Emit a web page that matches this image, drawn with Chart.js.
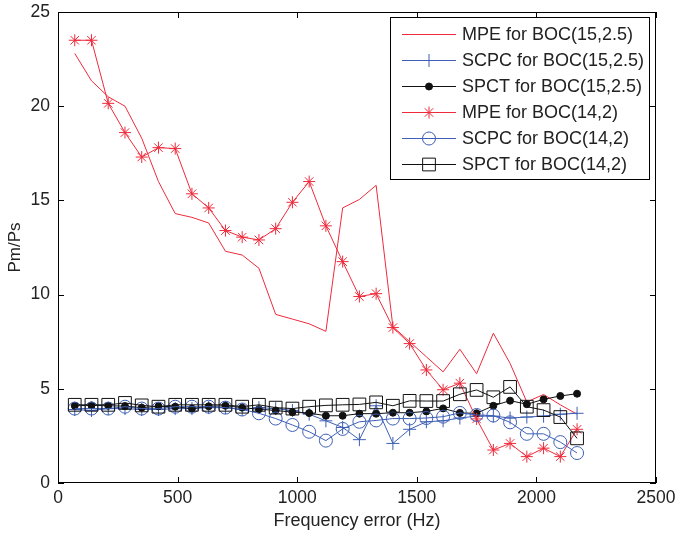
<!DOCTYPE html>
<html lang="en">
<head>
<meta charset="UTF-8">
<title>Pm/Ps vs frequency error</title>
<script src="https://cdn.jsdelivr.net/npm/chart.js"></script>
<style>
  body { margin: 0; background: #fff; }
  #wrap { width: 675px; height: 534px; }
</style>
</head>
<body>
<div id="wrap"><canvas id="grafico" width="675" height="534"></canvas></div>
<script>
// frequency error (Hz) of every sample
const freqs = [70, 140, 210, 280, 350, 420, 490, 560, 630, 700, 770, 840, 910, 980, 1050, 1120,
               1190, 1260, 1330, 1400, 1470, 1540, 1610, 1680, 1750, 1820, 1890, 1960, 2030, 2100, 2170];

// Pm/Ps
const mpe15 = [22.8, 21.35, 20.5, 20.0, 18.3, 16.0, 14.3, 14.1, 13.8, 12.3, 12.1, 11.4, 8.95, 8.7, 8.45, 8.05,
               14.6, 15.05, 15.8, 8.3, 7.5, 6.7, 5.9, 7.1, 5.8, 7.95, 6.35, 4.3, 4.7, 4.15, 3.65];
const scpc15 = [3.9, 3.85, 3.95, 3.95, 3.9, 3.9, 3.95, 3.95, 4.0, 4.0, 3.9, 4.0, 3.95, 3.85, 3.65, 3.3,
                2.95, 2.3, 4.1, 2.1, 2.85, 3.25, 3.3, 3.45, 3.55, 3.55, 3.45, 3.5, 3.55, 3.65, 3.7];
const spct15 = [4.1, 4.12, 4.1, 4.08, 4.0, 4.07, 4.05, 3.95, 4.07, 4.1, 4.0, 3.92, 3.85, 3.76, 3.71, 3.57,
                3.57, 3.68, 3.68, 3.73, 3.73, 3.8, 3.96, 3.72, 3.7, 4.1, 4.37, 4.18, 4.44, 4.62, 4.74];
const mpe14 = [23.5, 23.5, 20.15, 18.6, 17.3, 17.8, 17.75, 15.35, 14.6, 13.4, 13.05, 12.9, 13.5, 14.9, 16.0, 13.65,
               11.75, 9.9, 10.05, 8.25, 7.4, 6.0, 4.95, 5.3, 3.4, 1.75, 2.1, 1.4, 1.85, 1.4, 2.85];
const scpc14 = [3.95, 3.95, 3.95, 4.05, 3.95, 3.95, 4.05, 4.05, 4.05, 4.0, 3.9, 3.7, 3.42, 3.08, 2.72, 2.25,
                2.87, 3.25, 3.32, 3.42, 3.42, 3.45, 3.52, 3.72, 3.61, 3.58, 3.22, 2.61, 2.61, 2.17, 1.59];
const spct14 = [4.15, 4.15, 4.15, 4.25, 4.12, 4.05, 4.15, 4.15, 4.15, 4.15, 4.05, 4.15, 4.0, 3.95, 4.05, 4.12,
                4.15, 4.17, 4.28, 4.1, 4.36, 4.35, 4.35, 4.71, 4.94, 4.55, 5.1, 4.05, 3.87, 3.5, 2.37];

const xTicks = [0, 500, 1000, 1500, 2000, 2500];
const yTicks = [0, 5, 10, 15, 20, 25];

const VERMELHO = '#ee2a3b';
const AZUL = '#3e5fb5';
const PRETO = '#111111';
const FONTE = '"Liberation Sans", Arial, Helvetica, sans-serif';

function pares(vals) {
  return freqs.map((f, i) => ({ x: f, y: vals[i] }));
}

function serie(label, vals, cor, ponto, raio, preenchido) {
  return {
    label: label,
    data: pares(vals),
    borderColor: cor,
    borderWidth: 1,
    pointStyle: ponto,
    pointRadius: raio,
    pointBorderColor: cor,
    pointBackgroundColor: preenchido ? cor : 'rgba(0,0,0,0)',
    pointBorderWidth: 1,
    showLine: true,
    tension: 0,
    fill: false
  };
}

const datasets = [
  serie('MPE for BOC(15,2.5)', mpe15, VERMELHO, false, 0, false),
  serie('SCPC for BOC(15,2.5)', scpc15, AZUL, 'cross', 6.5, false),
  serie('SPCT for BOC(15,2.5)', spct15, PRETO, 'circle', 3.5, true),
  serie('MPE for BOC(14,2)', mpe14, VERMELHO, 'star', 6, false),
  serie('SCPC for BOC(14,2)', scpc14, AZUL, 'circle', 6.5, false),
  serie('SPCT for BOC(14,2)', spct14, PRETO, 'rect', 9, false)
];
// later series on top, like the original
datasets.forEach((d, i) => { d.order = datasets.length - i; });

// marker drawing for the legend
function marcador(ctx, estilo, x, y, r, cor, cheio) {
  ctx.beginPath();
  if (estilo === 'cross') {
    ctx.moveTo(x - r, y); ctx.lineTo(x + r, y);
    ctx.moveTo(x, y - r); ctx.lineTo(x, y + r);
  } else if (estilo === 'star') {
    ctx.moveTo(x - r, y); ctx.lineTo(x + r, y);
    ctx.moveTo(x, y - r); ctx.lineTo(x, y + r);
    const d = r * Math.SQRT1_2;
    ctx.moveTo(x - d, y - d); ctx.lineTo(x + d, y + d);
    ctx.moveTo(x - d, y + d); ctx.lineTo(x + d, y - d);
  } else if (estilo === 'circle') {
    ctx.arc(x, y, r, 0, Math.PI * 2);
  } else if (estilo === 'rect') {
    const s = r * Math.SQRT1_2;
    ctx.rect(x - s, y - s, 2 * s, 2 * s);
  } else {
    return;
  }
  if (cheio) { ctx.fillStyle = cor; ctx.fill(); }
  ctx.strokeStyle = cor;
  ctx.stroke();
}

// box, inward ticks on all four sides, and the legend
const moldura = {
  id: 'moldura',
  afterDraw(chart) {
    const { ctx, chartArea: a, scales: { x, y } } = chart;
    ctx.save();
    ctx.strokeStyle = '#000';
    ctx.lineWidth = 1;
    ctx.strokeRect(a.left + 0.5, a.top + 0.5, a.right - a.left - 1, a.bottom - a.top - 1);
    ctx.beginPath();
    xTicks.forEach(v => {
      const px = Math.round(x.getPixelForValue(v)) + 0.5;
      ctx.moveTo(px, a.bottom); ctx.lineTo(px, a.bottom - 6);
      ctx.moveTo(px, a.top); ctx.lineTo(px, a.top + 6);
    });
    yTicks.forEach(v => {
      const py = Math.round(y.getPixelForValue(v)) + 0.5;
      ctx.moveTo(a.left, py); ctx.lineTo(a.left + 6, py);
      ctx.moveTo(a.right, py); ctx.lineTo(a.right - 6, py);
    });
    ctx.stroke();

    // legend
    const bx = 390.5, by = 17.5, bw = 259, bh = 162;
    ctx.fillStyle = '#fff';
    ctx.fillRect(bx, by, bw, bh);
    ctx.strokeStyle = '#000';
    ctx.strokeRect(bx, by, bw, bh);
    ctx.font = '18px ' + FONTE;
    ctx.textBaseline = 'middle';
    ctx.textAlign = 'left';
    chart.data.datasets.forEach((d, i) => {
      const ly = Math.round(34 + 26 * i) + 0.5;
      ctx.strokeStyle = d.borderColor;
      ctx.lineWidth = 1;
      ctx.beginPath();
      ctx.moveTo(402, ly); ctx.lineTo(456, ly);
      ctx.stroke();
      if (d.pointStyle) {
        marcador(ctx, d.pointStyle, 429, ly, d.pointRadius, d.pointBorderColor,
                 d.pointBackgroundColor !== 'rgba(0,0,0,0)');
      }
      ctx.fillStyle = '#222';
      ctx.fillText(d.label, 462, ly + 1);
    });
    ctx.restore();
  }
};

new Chart(document.getElementById('grafico'), {
  type: 'scatter',
  data: { datasets: datasets },
  options: {
    responsive: false,
    animation: false,
    layout: { padding: { left: 0, right: 19, top: 12, bottom: 0 } },
    plugins: { legend: { display: false }, tooltip: { enabled: false } },
    scales: {
      x: {
        type: 'linear',
        min: 0, max: 2500,
        afterBuildTicks: s => { s.ticks = xTicks.map(v => ({ value: v })); },
        afterFit: s => { s.height = 51; s.paddingLeft = 0; s.paddingRight = 0; },
        grid: { display: false, drawTicks: false },
        border: { display: false },
        ticks: { padding: 5, color: '#222', font: { family: FONTE, size: 17.5 },
                 callback: v => String(v) },
        title: { display: true, text: 'Frequency error (Hz)', color: '#222',
                 font: { family: FONTE, size: 18 }, padding: { top: 0, bottom: 2 } }
      },
      y: {
        type: 'linear',
        min: 0, max: 25,
        afterBuildTicks: s => { s.ticks = yTicks.map(v => ({ value: v })); },
        afterFit: s => { s.width = 58; s.paddingTop = 0; s.paddingBottom = 0; },
        grid: { display: false, drawTicks: false },
        border: { display: false },
        ticks: { padding: 8, color: '#222', font: { family: FONTE, size: 17.5 },
                 callback: v => String(v) },
        title: { display: true, text: 'Pm/Ps', color: '#222',
                 font: { family: FONTE, size: 17 }, padding: { top: 5, bottom: 0 } }
      }
    }
  },
  plugins: [moldura]
});
</script>
</body>
</html>
